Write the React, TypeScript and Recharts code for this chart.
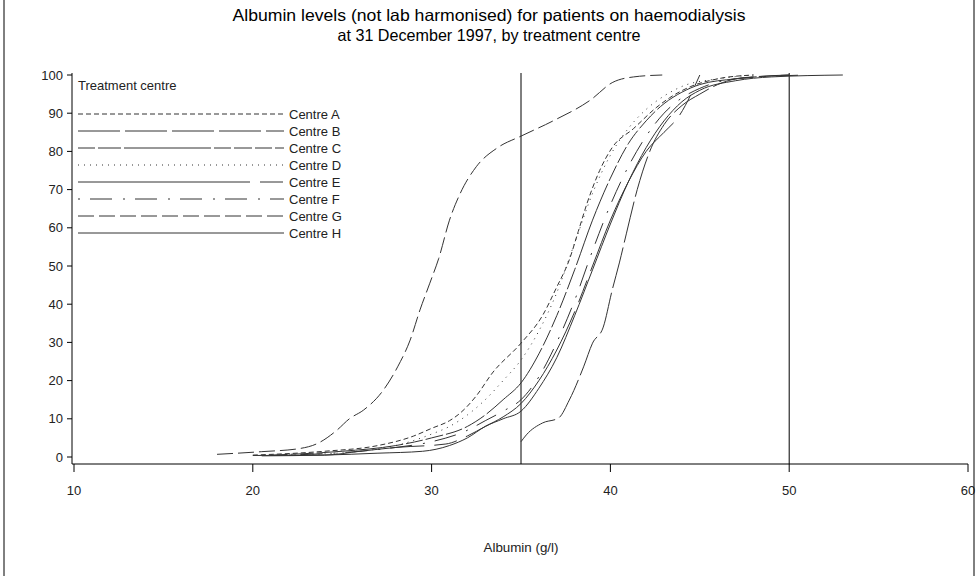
import React from "react";
import { LineChart, Line, XAxis, YAxis, ReferenceLine } from "recharts";

const FONT = "'Liberation Sans', Arial, sans-serif";

const xTicks = [10, 20, 30, 40, 50, 60];
const yTicks = [0, 10, 20, 30, 40, 50, 60, 70, 80, 90, 100];
const refLines = [35, 50];

const centreNames = ["Centre A", "Centre B", "Centre C", "Centre D", "Centre E", "Centre F", "Centre G", "Centre H"];

// [albumin g/l, cumulative %]
const centreA = [[20, 0.5], [24, 1.5], [27, 3], [29, 5.5], [30, 7.5], [31, 9.5], [31.6, 11.5], [32.5, 16], [33.4, 22], [35, 29.8], [36.2, 37], [37, 44.5], [37.7, 51.6], [38.2, 59], [38.7, 66.5], [39.4, 75], [40.1, 81], [41.3, 86], [42.6, 91.6], [43.3, 94], [44.5, 97], [46, 99], [48, 100]];
const centreB = [[35, 4], [35.3, 5.8], [36.2, 8.9], [37.1, 10.2], [37.7, 14.9], [38.5, 23.6], [39, 29.8], [39.6, 34], [40.1, 43.7], [40.5, 50.8], [40.9, 58.6], [41.5, 70], [42.2, 80], [43, 87], [44, 92], [45, 95], [46, 97.5], [47, 99], [48, 99.5], [50, 100]];
const centreC = [[21, 0.5], [25, 1.5], [28, 3], [30, 5], [32, 8], [33, 11], [34, 15], [35, 19.4], [36, 27], [37, 37], [38, 49], [39, 62], [40, 73], [41, 82], [42, 88], [43, 92.5], [44, 95.5], [45, 97.5], [47, 99], [50, 100]];
const centreD = [[22, 0.5], [26, 1.5], [28, 3], [30, 6], [31, 8], [32, 11], [33, 15], [34, 20], [35, 25.4], [36, 33], [37, 43], [38, 56], [39, 69], [40, 79], [41, 86], [42, 91], [43, 94.5], [44, 97], [46, 99], [48, 100]];
const centreE = [[20, 0.4], [24, 0.5], [26, 1.5], [28, 2.5], [30.8, 3.4], [32, 5.5], [33, 8], [34, 10.5], [35, 14], [36, 20], [37, 28], [38, 38], [39, 50], [40, 62], [41, 72], [42, 80], [43, 85], [43.8, 89], [45, 100]];
const centreF = [[22, 0.5], [26, 1.5], [28, 2.5], [30, 4], [32, 7], [33, 9.5], [34, 12], [35, 15], [36, 21], [37, 30], [38, 41], [39, 54], [40, 66], [41, 76], [42, 84], [43, 90], [44, 94], [45, 96.5], [47, 99], [51, 100]];
const centreG = [[18, 0.7], [20.5, 1.4], [22.6, 2.2], [23.6, 3.5], [24.7, 7], [25.4, 10], [26.2, 12.3], [27.3, 17.5], [28.1, 23.6], [28.8, 30.6], [29.35, 38.5], [29.9, 45.5], [30.4, 52], [31, 62], [31.6, 69], [32.5, 76], [33.7, 81], [35, 84], [36.8, 88], [38.9, 93.5], [40.1, 98], [41.3, 99.5], [42.9, 100]];
const centreH = [[20.5, 0.3], [24, 0.5], [27, 1], [29.5, 1.5], [31, 3], [32, 5], [33, 8], [34, 10], [35, 12], [36, 18], [37, 26], [38, 37], [39, 49], [40, 61], [41, 72], [42, 81], [43, 88], [44, 93], [45, 96], [47, 98.5], [49, 99.5], [53, 100]];

const centreValues = [centreA, centreB, centreC, centreD, centreE, centreF, centreG, centreH];

const dashes = ["5 3", "42 5", "17 3 23 3 87 3 17 3 18 3", "1 5", "172 10 23 10", "2 10 22 11", "16 5", ""];

const series = centreNames.map((name, i) => ({
  name,
  dash: dashes[i],
  data: centreValues[i].map(([x, y]) => ({ x, y })),
}));

const W = 978;
const H = 576;

export default function App() {
  return (
    <div style={{ position: "absolute", left: 0, top: 0, width: W, height: H, background: "#fff" }}>
      <LineChart width={W} height={H} margin={{ top: 73, right: 10, left: 12, bottom: 72 }}>
        <XAxis
          type="number"
          dataKey="x"
          domain={[10, 60]}
          ticks={xTicks}
          padding={{ left: 2, right: 0 }}
          allowDuplicatedCategory={false}
          height={40}
          stroke="#000"
          tickSize={8}
          tickMargin={14}
          tick={{ fill: "#222", fontSize: 13, fontFamily: FONT }}
          tickLine={{ stroke: "#000" }}
        />
        <YAxis
          type="number"
          dataKey="y"
          domain={[0, 100]}
          ticks={yTicks}
          padding={{ top: 2, bottom: 7 }}
          width={60}
          stroke="#000"
          tickSize={5}
          tickMargin={4}
          tick={{ fill: "#222", fontSize: 13, fontFamily: FONT }}
          tickLine={{ stroke: "#000" }}
        />
        {refLines.map((v) => (
          <ReferenceLine key={v} x={v} stroke="#000" strokeWidth={1} ifOverflow="extendDomain" />
        ))}
        {series.map((s) => (
          <Line
            key={s.name}
            name={s.name}
            data={s.data}
            dataKey="y"
            type="monotone"
            stroke="#333"
            strokeWidth={1}
            strokeDasharray={s.dash || undefined}
            dot={false}
            activeDot={false}
            isAnimationActive={false}
          />
        ))}
      </LineChart>
      <svg width={W} height={H} style={{ position: "absolute", left: 0, top: 0, pointerEvents: "none" }}>
        <line x1={4} y1={0} x2={4} y2={H} stroke="#000" />
        <line x1={974} y1={0} x2={974} y2={H} stroke="#000" />
        <text x={489} y={21} textAnchor="middle" fontFamily={FONT} fontSize={16.5} fill="#000" textLength={513} lengthAdjust="spacingAndGlyphs">
          Albumin levels (not lab harmonised) for patients on haemodialysis
        </text>
        <text x={489} y={41} textAnchor="middle" fontFamily={FONT} fontSize={16.5} fill="#000" textLength={303} lengthAdjust="spacingAndGlyphs">
          at 31 December 1997, by treatment centre
        </text>
        <text x={521} y={552} textAnchor="middle" fontFamily={FONT} fontSize={13} fill="#222" textLength={75} lengthAdjust="spacingAndGlyphs">
          Albumin (g/l)
        </text>
        <text x={78} y={90} fontFamily={FONT} fontSize={13} fill="#222">
          Treatment centre
        </text>
        {series.map((s, i) => {
          const y = 114 + i * 17;
          return (
            <g key={s.name}>
              <line x1={78} y1={y} x2={284} y2={y} stroke="#333" strokeWidth={1} strokeDasharray={s.dash || undefined} />
              <text x={289} y={y + 5} fontFamily={FONT} fontSize={13} fill="#222">
                {s.name}
              </text>
            </g>
          );
        })}
      </svg>
    </div>
  );
}
